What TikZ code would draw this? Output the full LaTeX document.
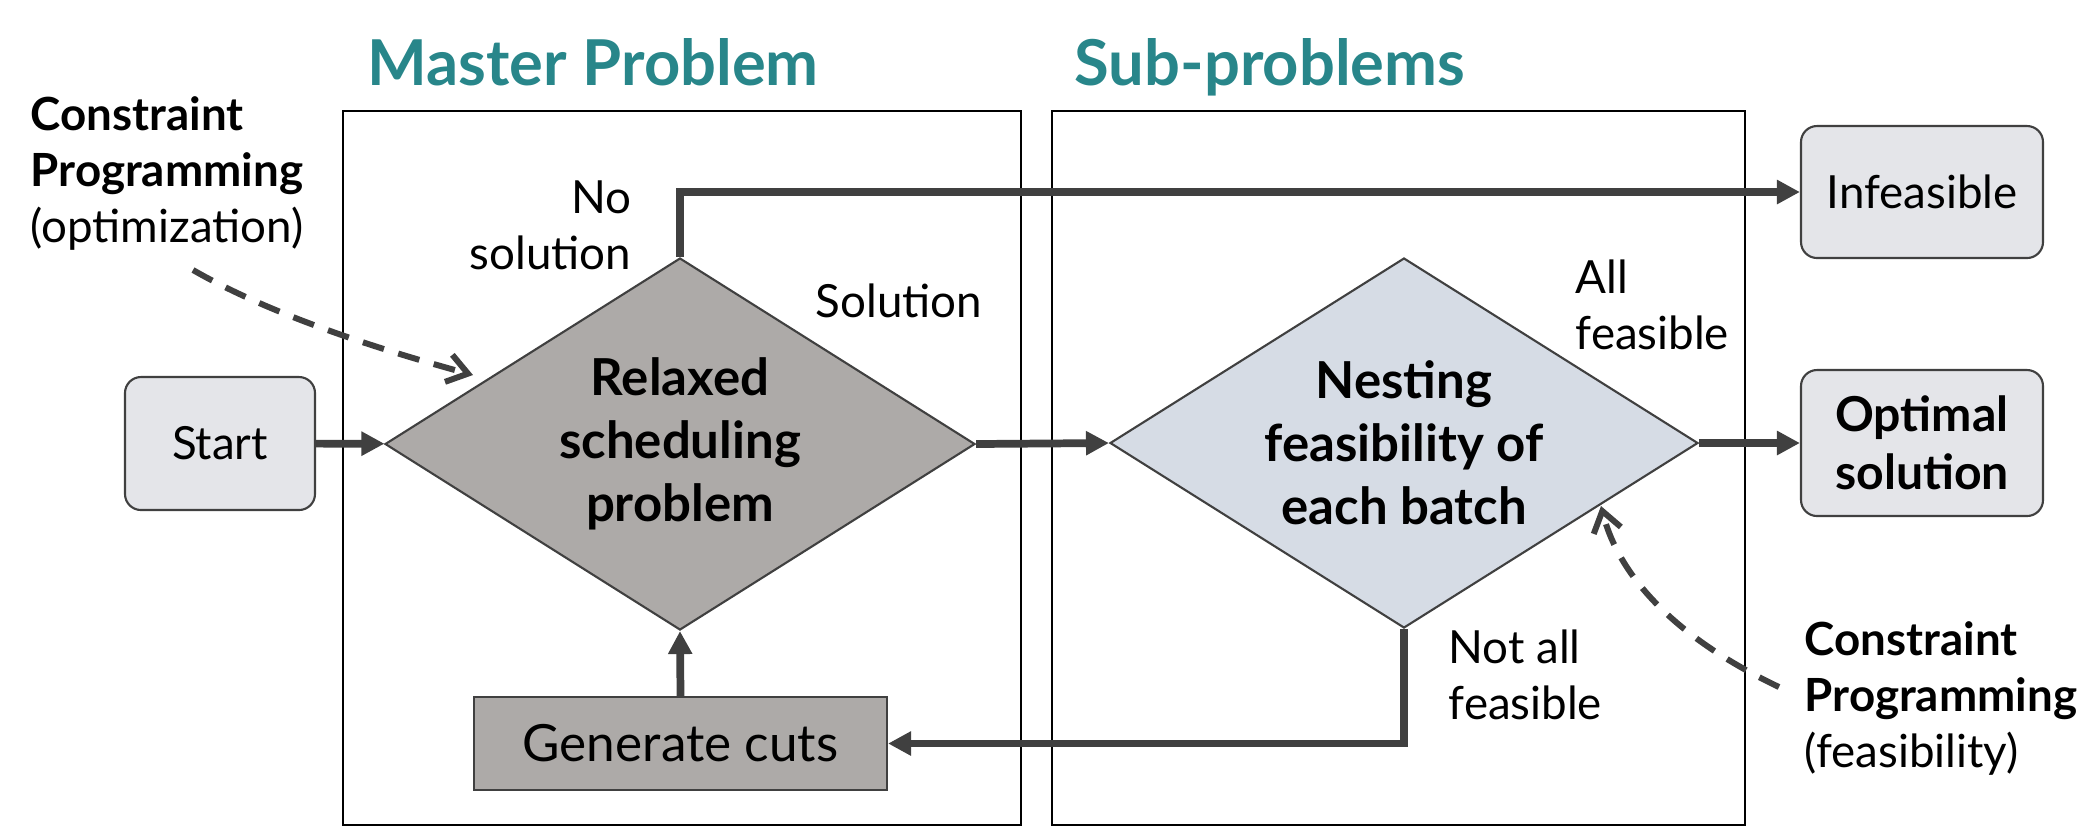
\documentclass[tikz,border=0pt]{standalone}
\usepackage{fontspec}
\setmainfont{Lato}
\usetikzlibrary{shapes.geometric,arrows.meta}

\definecolor{teal}{HTML}{28868A}
\definecolor{linegray}{HTML}{404040}
\definecolor{darkfill}{HTML}{ADAAA8}
\definecolor{bluefill}{HTML}{D6DCE5}
\definecolor{termfill}{HTML}{E4E5E9}

\begin{document}
\begin{tikzpicture}
  [
    x = 0.1mm, y = -0.1mm,
    frame/.style = {draw = black, line width = 0.6pt, minimum width = 67.8mm, minimum height = 71.4mm},
    title/.style = {anchor = base west, text = teal, font = \bfseries\fontsize{18pt}{22pt}\selectfont, inner sep = 0pt},
    decision/.style = {diamond, aspect = 1.59, draw = linegray, line width = 0.6pt, inner sep = 0pt,
        minimum width = 59mm, minimum height = 37.2mm, align = center,
        font = \bfseries\fontsize{14.5pt}{17.9pt}\selectfont},
    terminal/.style = {rectangle, rounded corners = 1.6mm, draw = linegray, line width = 0.6pt,
        fill = termfill, minimum width = 24.2mm, align = center,
        font = \fontsize{13pt}{15.5pt}\selectfont},
    label/.style = {inner sep = 0pt, font = \fontsize{13pt}{15.9pt}\selectfont},
    flow/.style = {draw = linegray, line width = 2.2pt, -{Triangle[length = 2.3mm, width = 2.3mm]}},
    solver/.style = {draw = linegray, line width = 1.7pt, dash pattern = on 2.2mm off 1.5mm,
        -{Straight Barb[length = 2mm, width = 2.8mm]}},
  ]

  \useasboundingbox (0,0) rectangle (2093,835);

  % frames and titles
  \node [frame] (master) at (682,468) {};
  \node [frame, minimum width = 69.3mm] (sub) at (1398.5,468) {};
  \node [title] (mastertitle) at (367,85) {Master Problem};
  \node [title] (subtitle) at (1074,85) {Sub-problems};

  % flow nodes
  \node [terminal, minimum width = 19mm, minimum height = 13.3mm] (start) at (220,443.5) {Start};
  \node [decision, fill = darkfill] (relaxed) at (680,444) {Relaxed\\scheduling\\problem};
  \node [decision, fill = bluefill, minimum width = 58.8mm, minimum height = 37mm] (nesting) at (1404,443)
    {Nesting\\feasibility of\\each batch};
  \node [rectangle, draw = linegray, line width = 0.6pt, fill = darkfill,
    minimum width = 41.3mm, minimum height = 9.3mm, font = \fontsize{14.6pt}{17pt}\selectfont]
    (cuts) at (680.5,743.5) {Generate cuts};
  \node [terminal, minimum height = 13.2mm] (infeasible) at (1922,192) {Infeasible};
  \node [terminal, minimum height = 14.6mm, font = \bfseries\fontsize{13.7pt}{16.6pt}\selectfont]
    (optimal) at (1922,443) {Optimal\\solution};

  % labels (base = last line)
  \node [label, anchor = base east, align = right] (nosol) at (632,269) {No\\solution};
  \node [label, anchor = base west] (sol) at (815,317) {Solution};
  \node [label, anchor = base west, align = left] (allfeas) at (1575,349) {All\\feasible};
  \node [label, anchor = base west, align = left] (notall) at (1448,719) {Not all\\feasible};
  \node [label, anchor = base west, align = left] (cpopt) at (30,242)
    {\textbf{Constraint}\\\textbf{Programming}\\(optimization)};
  \node [label, anchor = base west, align = left] (cpfeas) at (1804,767)
    {\textbf{Constraint}\\\textbf{Programming}\\(feasibility)};

  % connectors
  \draw [flow] (start) -- (relaxed);
  \draw [flow] (relaxed.north) |- (infeasible.west);
  \draw [flow] (relaxed.east) -- (nesting.west);
  \draw [flow] (nesting.east) -- (optimal.west);
  \draw [flow] (nesting.south) |- (cuts.east);
  \draw [flow] (cuts.north) -- (relaxed.south);

  \coordinate (optfrom) at (193,270);
  \coordinate (optto) at (473,375);
  \coordinate (feasfrom) at (1779,687);
  \coordinate (feasto) at (1601,506);
  \draw [solver] (optfrom) .. controls (280,320) and (400,355) .. (optto);
  \draw [solver] (feasfrom) .. controls (1680,640) and (1620,580) .. (feasto);

\end{tikzpicture}
\end{document}
